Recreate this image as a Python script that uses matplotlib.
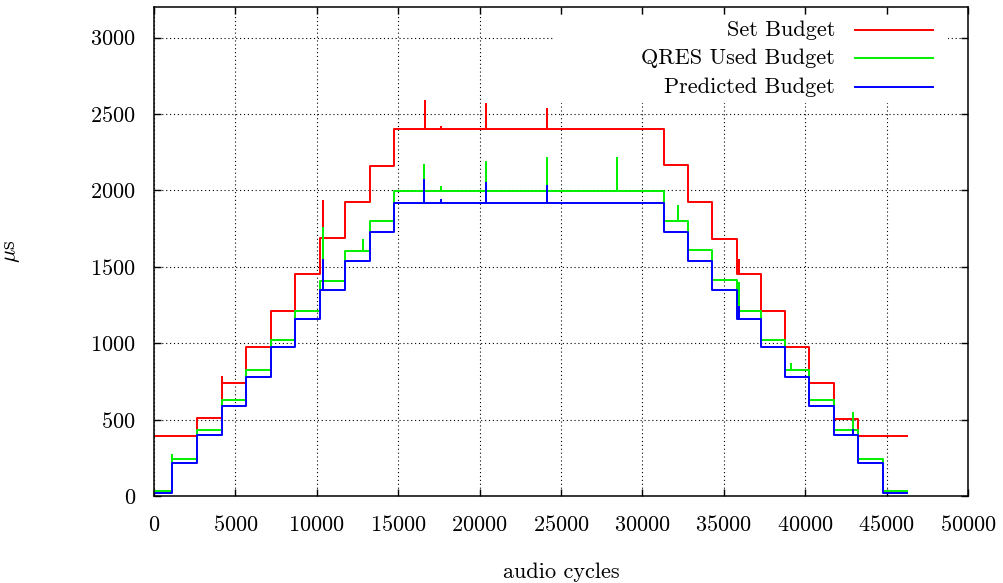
import numpy as np
import matplotlib
matplotlib.use('Agg')
import matplotlib.pyplot as plt
from matplotlib.patches import Rectangle
from matplotlib.lines import Line2D

plt.rcParams['font.family'] = 'cmr10'
plt.rcParams['mathtext.fontset'] = 'cm'
plt.rcParams['axes.formatter.use_mathtext'] = True

# step boundaries (audio cycles)
edges = [0, 1106, 2660, 4158, 5651, 7168, 8679, 10197, 11732, 13249, 14760,
         31327, 32820, 34294, 35792, 37267, 38759, 40252, 41750, 43243, 44760, 46235]

# budget level on each step (us)
set_budget = [395, 395, 508, 741, 976, 1211, 1451, 1688, 1924, 2159, 2399,
              2163, 1924, 1684, 1451, 1211, 976, 741, 503, 395, 395]
used_budget = [36, 240, 431, 627, 823, 1020, 1211, 1410, 1605, 1802, 1998,
               1800, 1608, 1412, 1211, 1020, 824, 627, 431, 240, 35]
pred_budget = [20, 215, 400, 588, 780, 972, 1160, 1350, 1540, 1730, 1920,
               1730, 1540, 1350, 1160, 972, 780, 588, 401, 214, 18]

# isolated peaks (cycle, value)
set_peaks = [(4170, 776), (10360, 1930), (16646, 2588), (17610, 2418),
             (20393, 2566), (24120, 2534), (35934, 1547)]
used_peaks = [(1120, 268), (10360, 1753), (12820, 1673), (16605, 2163),
              (17610, 2025), (20393, 2185), (24120, 2211), (28420, 2213),
              (32170, 1895), (35934, 1394), (39128, 867), (42918, 540)]
pred_peaks = [(10360, 1542), (16605, 2070), (17610, 1935), (20393, 2050),
              (24120, 2026), (35934, 1237), (42918, 435)]


def build(edges, levels, peaks):
    xs = []
    ys = []
    for i in range(len(levels)):
        x0, x1 = edges[i], edges[i + 1]
        lv = levels[i]
        xs.append(x0)
        ys.append(lv)
        for px, py in peaks:
            if x0 <= px < x1:
                xs += [px, px, px]
                ys += [lv, py, lv]
        xs.append(x1)
        ys.append(lv)
    return np.array(xs), np.array(ys)


fig = plt.figure(figsize=(10.04, 5.83), dpi=100)
ax = fig.add_axes([0.1534, 0.1492, 0.8107, 0.8388])

x, y = build(edges, set_budget, set_peaks)
ax.plot(x, y, color='#ff0000', lw=1.4)
x, y = build(edges, used_budget, used_peaks)
ax.plot(x, y, color='#00f000', lw=1.4)
x, y = build(edges, pred_budget, pred_peaks)
ax.plot(x, y, color='#0000ff', lw=1.4)

ax.set_xlim(0, 50000)
ax.set_ylim(0, 3200)
ax.set_xticks(np.arange(0, 50001, 5000))
ax.set_yticks(np.arange(0, 3001, 500))
ax.grid(True, color='black', linestyle=(0, (1, 2.5)), lw=0.8)
ax.tick_params(direction='in', length=5, width=1, top=True, right=True,
               labelsize=16)
ax.tick_params(axis='x', pad=14)
ax.tick_params(axis='y', pad=13)
for s in ax.spines.values():
    s.set_linewidth(1.1)

ax.set_xlabel('audio cycles', fontsize=16)
ax.xaxis.set_label_coords(0.5, -0.135)
ax.set_ylabel(r'$\mu$s', fontsize=16)
ax.yaxis.set_label_coords(-0.162, 0.5)

# key, gnuplot style
ax.add_patch(Rectangle((0.490, 0.804), 0.485, 0.176, transform=ax.transAxes,
                       facecolor='white', edgecolor='none', zorder=1.7))
keys = [('Set Budget', '#ff0000', 0.953),
        ('QRES Used Budget', '#00f000', 0.8957),
        ('Predicted Budget', '#0000ff', 0.8364)]
for label, col, ky in keys:
    ax.text(0.8366, ky, label, transform=ax.transAxes, ha='right',
            va='center', fontsize=16, zorder=3)
    ax.add_line(Line2D([0.861, 0.957], [ky, ky], transform=ax.transAxes,
                       color=col, lw=1.4, zorder=3))

fig.savefig('out.png', dpi=100)
